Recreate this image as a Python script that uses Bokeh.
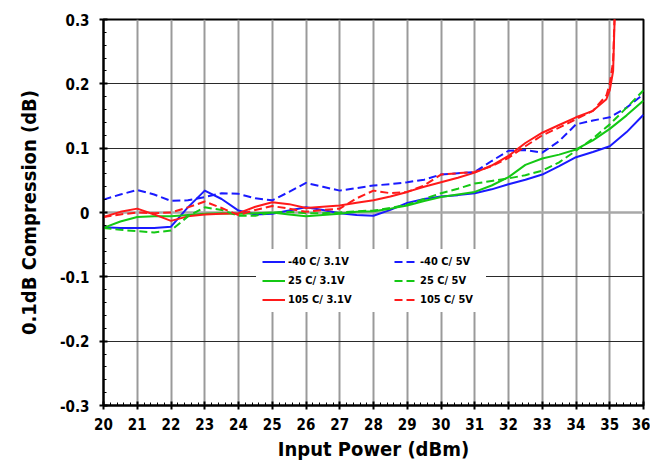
from bokeh.plotting import figure
from bokeh.models import (FixedTicker, CustomJSTickFormatter, Span, Legend,
                          LegendItem, Range1d)
from bokeh.embed import file_html
from bokeh.resources import INLINE
import numpy as np

# ---------------- data ----------------
power_dbm = [20, 20.5, 21, 21.5, 22, 22.5, 23, 23.5, 24, 24.5, 25, 25.5, 26,
             26.5, 27, 27.5, 28, 28.5, 29, 29.5, 30, 30.5, 31, 31.5, 32, 32.5,
             33, 33.5, 34, 34.5, 35, 35.5, 36]

m40_3v1 = [-0.023, -0.024, -0.024, -0.024, -0.022, 0.008, 0.034, 0.021, 0.003,
           -0.003, -0.002, 0.003, 0.008, 0.004, -0.001, -0.004, -0.005, 0.004,
           0.015, 0.021, 0.025, 0.027, 0.030, 0.036, 0.044, 0.051, 0.059,
           0.072, 0.086, 0.094, 0.103, 0.125, 0.152]

m40_5v = [0.020, 0.028, 0.035, 0.028, 0.018, 0.019, 0.024, 0.030, 0.029,
          0.022, 0.019, 0.032, 0.046, 0.040, 0.034, 0.038, 0.042, 0.044,
          0.047, 0.051, 0.059, 0.061, 0.063, 0.080, 0.096, 0.097, 0.093,
          0.111, 0.137, 0.143, 0.148, 0.163, 0.184]

p25_3v1 = [-0.024, -0.014, -0.007, -0.006, -0.006, -0.004, -0.002, -0.001,
           -0.002, -0.001, 0.000, -0.003, -0.006, -0.004, -0.002, 0.001,
           0.002, 0.006, 0.011, 0.018, 0.024, 0.028, 0.032, 0.042, 0.055,
           0.074, 0.084, 0.090, 0.098, 0.112, 0.130, 0.151, 0.174]

p25_5v = [-0.024, -0.027, -0.029, -0.031, -0.028, -0.006, 0.008, 0.004,
          -0.005, -0.005, 0.000, 0.001, -0.001, -0.001, 0.000, 0.002, 0.003,
          0.007, 0.012, 0.021, 0.030, 0.037, 0.045, 0.049, 0.053, 0.058,
          0.065, 0.078, 0.096, 0.115, 0.137, 0.163, 0.190]

power_dbm_105 = [20, 20.5, 21, 21.5, 22, 22.5, 23, 23.5, 24, 24.5, 25, 25.5,
                 26, 26.5, 27, 27.5, 28, 28.5, 29, 29.5, 30, 30.5, 31, 31.5,
                 32, 32.5, 33, 33.5, 34, 34.5, 34.9, 35.0, 35.1, 35.2]

p105_3v1 = [-0.007, 0.001, 0.006, -0.003, -0.013, -0.006, -0.003, -0.002,
            -0.001, 0.009, 0.016, 0.013, 0.007, 0.009, 0.011, 0.015, 0.019,
            0.025, 0.032, 0.040, 0.047, 0.054, 0.062, 0.073, 0.088, 0.108,
            0.124, 0.136, 0.148, 0.158, 0.176, 0.190, 0.220, 0.400]

p105_5v = [-0.007, -0.003, 0.000, -0.001, 0.000, 0.008, 0.017, 0.007,
           -0.004, 0.004, 0.010, 0.006, 0.001, 0.004, 0.006, 0.022, 0.034,
           0.030, 0.032, 0.042, 0.059, 0.061, 0.063, 0.072, 0.085, 0.103,
           0.120, 0.132, 0.145, 0.158, 0.182, 0.200, 0.235, 0.400]

x_ticks = list(range(20, 37))
y_ticks = [-0.3, -0.2, -0.1, 0.0, 0.1, 0.2, 0.3]
y_grid = [-0.2, -0.1, 0.1, 0.2]

labels_left = ["-40 C/ 3.1V", "25 C/ 3.1V", "105 C/ 3.1V"]
labels_right = ["-40 C/ 5V", "25 C/ 5V", "105 C/ 5V"]

BLUE = "#1a1aff"
GREEN = "#14c814"
RED = "#ff1a1a"
FONT = "DejaVu Sans Condensed"

# ---------------- figure ----------------
p = figure(width=650, height=463, output_backend="svg", toolbar_location=None,
           x_range=Range1d(20, 36), y_range=Range1d(-0.3, 0.3),
           min_border_left=103, min_border_right=7, min_border_top=19,
           min_border_bottom=58, background_fill_color="white",
           border_fill_color="white")
p.outline_line_color = "black"
p.outline_line_width = 2

# grids
p.xgrid.ticker = FixedTicker(ticks=x_ticks)
p.xgrid.grid_line_color = "#9a9a9a"
p.xgrid.grid_line_width = 2
p.ygrid.ticker = FixedTicker(ticks=y_grid)
p.ygrid.grid_line_color = "#2a2a2a"
p.ygrid.grid_line_width = 1
p.add_layout(Span(location=0, dimension="width", line_color="#a8a8a8",
                  line_width=2.5, level="underlay"))

# axes
xminor = list(np.round(np.arange(20, 36.001, 0.2), 2))
yminor = list(np.round(np.arange(-0.3, 0.3001, 0.02), 3))
p.xaxis.ticker = FixedTicker(ticks=x_ticks, minor_ticks=xminor)
p.yaxis.ticker = FixedTicker(ticks=y_ticks, minor_ticks=yminor)
p.yaxis.formatter = CustomJSTickFormatter(
    code="const t = Math.round(tick * 10) / 10; return t === 0 ? '0' : t.toFixed(1);")

for ax in (p.xaxis[0], p.yaxis[0]):
    ax.axis_line_color = "black"
    ax.axis_line_width = 2
    ax.major_tick_line_color = "black"
    ax.major_tick_line_width = 2
    ax.minor_tick_line_color = "black"
    ax.minor_tick_line_width = 1
    ax.major_tick_in = 4
    ax.major_tick_out = 4
    ax.minor_tick_in = 3
    ax.minor_tick_out = 0
    ax.major_label_text_font = FONT
    ax.major_label_text_font_style = "bold"
    ax.major_label_text_font_size = "15px"
    ax.major_label_text_color = "black"
    ax.axis_label_text_font = FONT
    ax.axis_label_text_font_style = "bold"
    ax.axis_label_text_font_size = "20px"
    ax.axis_label_text_color = "black"

p.xaxis.axis_label = "Input Power (dBm)"
p.xaxis.major_label_standoff = 8
p.xaxis.axis_label_standoff = 4
p.yaxis.axis_label = "0.1dB Compression (dB)"
p.yaxis.major_label_standoff = 10
p.yaxis.axis_label_standoff = 16

# series
r1 = p.line(power_dbm, m40_3v1, line_color=BLUE, line_width=2, line_join="round")
r2 = p.line(power_dbm, p25_3v1, line_color=GREEN, line_width=2, line_join="round")
r3 = p.line(power_dbm_105, p105_3v1, line_color=RED, line_width=2, line_join="round")
r4 = p.line(power_dbm, m40_5v, line_color=BLUE, line_width=2, line_dash="8 4")
r5 = p.line(power_dbm, p25_5v, line_color=GREEN, line_width=2, line_dash="8 4")
r6 = p.line(power_dbm_105, p105_5v, line_color=RED, line_width=2, line_dash="8 4")


def make_legend(items, loc, lw):
    lg = Legend(items=items, location=loc, orientation="vertical",
                padding=6, spacing=6, margin=0, glyph_width=23,
                glyph_height=13, label_standoff=3, label_width=lw,
                label_height=13, label_text_font=FONT,
                label_text_font_style="bold", label_text_font_size="11px",
                label_text_color="black", border_line_alpha=0,
                background_fill_color="white", background_fill_alpha=1)
    return lg


leg1 = make_legend([LegendItem(label=t, renderers=[r]) for t, r in
                    zip(labels_left, [r1, r2, r3])], (153, 93), 94)
leg2 = make_legend([LegendItem(label=t, renderers=[r]) for t, r in
                    zip(labels_right, [r4, r5, r6])], (285, 93), 60)
p.add_layout(leg1, "center")
p.add_layout(leg2, "center")

open("out.html", "w").write(file_html(p, INLINE))
